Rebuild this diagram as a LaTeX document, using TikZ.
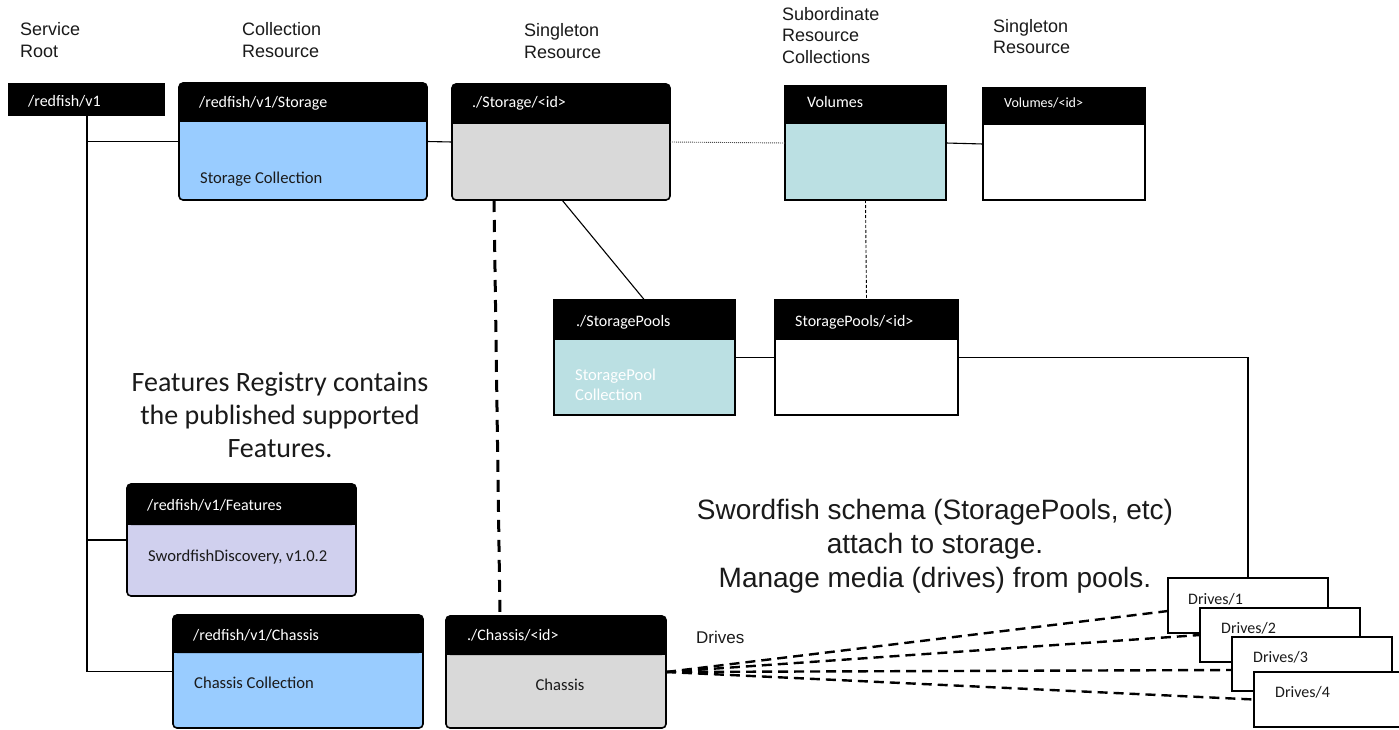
\documentclass[tikz,border=0pt]{standalone}
\usepackage{fontspec}
\setmainfont{Carlito}
\newfontfamily\arialf{Liberation Sans}
\usetikzlibrary{fit}
\definecolor{lblue}{HTML}{99CCFF}
\definecolor{lgray}{HTML}{D9D9D9}
\definecolor{lteal}{HTML}{BBE0E3}
\definecolor{lav}{HTML}{D0D0EE}
\definecolor{ink}{HTML}{1A1A1A}
\tikzset{
  hdrtxt/.style={text=white, inner sep=0, anchor=base west, font=\fontsize{16}{18}\selectfont},
  bodytxt/.style={text=ink, inner sep=0, anchor=base west, font=\fontsize{16.6}{18}\selectfont},
  drvtxt/.style={text=ink, inner sep=0, anchor=base west, font=\fontsize{16}{18}\selectfont},
  coltitle/.style={inner sep=0, anchor=north west, align=left, text=ink, font=\arialf\fontsize{18}{22}\selectfont},
  conn/.style={line width=1.1pt, black},
  border/.style={line width=1.6pt, black},
  thickdash/.style={line width=3pt, black, dash pattern=on 12pt off 8pt},
  drivedash/.style={line width=2.4pt, black, dash pattern=on 10pt off 6pt},
  finedot/.style={line width=0.9pt, black!70, dash pattern=on 1pt off 1pt},
  finedash/.style={line width=0.9pt, black, dash pattern=on 3pt off 2pt},
  drivebox/.style={draw=black, line width=1.6pt, fill=white, inner sep=0, outer sep=0},
}
\newcommand{\hdrbox}[8]{%
  \node[inner sep=0, outer sep=0, fit={(#2,#3) (#4,#5)}, fill=#7, rounded corners=#8] (#1) {};
  \fill[black, rounded corners=#8] (#2,#3) rectangle (#4,#6);
  \fill[black] (#2,#3+8) rectangle (#4,#6);
  \draw[border, rounded corners=#8] (#2,#3) rectangle (#4,#5);
}
\begin{document}
\begin{tikzpicture}[x=1pt, y=-1pt]
\useasboundingbox (0,0) rectangle (1399,730);
\fill[white] (0,0) rectangle (1399,730);

% column titles
\node[coltitle] (tSR) at (20,22) {Service\\Root};
\node[coltitle] (tCR) at (242,22) {Collection\\Resource};
\node[coltitle] (tSg1) at (524,23) {Singleton\\Resource};
\node[coltitle, font=\arialf\fontsize{18}{21.5}\selectfont] (tSub) at (782,7) {Subordinate\\Resource\\Collections};
\node[coltitle, font=\arialf\fontsize{18}{21}\selectfont] (tSg2) at (993,19) {Singleton\\Resource};

% boxes
\node[fill=black, inner sep=0, outer sep=0, fit={(8,83) (165,116)}] (root) {};
\hdrbox{stcol}{179}{83}{427}{200}{122}{lblue}{4pt}
\hdrbox{stid}{452}{84}{670}{200}{124}{lgray}{4pt}
\hdrbox{vol}{785}{86}{946}{200}{124}{lteal}{0pt}
\hdrbox{volid}{983}{88}{1145}{200}{125}{white}{0pt}
\hdrbox{spool}{554}{300}{735}{415}{340}{lteal}{0pt}
\hdrbox{spid}{775}{300}{958}{415}{340}{white}{0pt}
\hdrbox{feat}{127}{484}{356}{596}{525}{lav}{4pt}
\hdrbox{chcol}{173}{615}{423}{728}{653}{lblue}{4pt}
\hdrbox{chid}{446}{616}{666}{728}{655}{lgray}{4pt}

% connectors
\coordinate (j) at (87,0);
\draw[conn] (root.south -| j) |- (chcol.west);
\draw[conn] (root.south -| j) |- (stcol.west);
\draw[conn] (j |- feat.west) -- (feat.west);
\draw[conn] (stcol.east) -- (stid.west);
\draw[finedot] (stid.east) -- (vol.west);
\draw[conn] (vol.east) -- (volid.west);
\draw[finedash] (vol.south) -- (spid.north);
\draw[conn] ([xshift=1pt]stid.south) -- (spool.north);
\draw[thickdash] ([xshift=-67pt]stid.south) -- ([xshift=-56pt]chid.north);
\draw[conn] (spool.east) -- (spid.west);

% drives
\node[drivebox, fit={(1168,578) (1328,633)}] (d1) {};
\node[drivebox, fit={(1200,608) (1360,662)}] (d2) {};
\node[drivebox, fit={(1232,637) (1392,691)}] (d3) {};
\node[drivebox, fit={(1254,672) (1414,727)}] (d4) {};
\draw[conn] (spid.east) -| (d1.north);
\draw[drivedash] (chid.east) -- ([yshift=-5.5pt]d1.west);
\draw[drivedash] (chid.east) -- (d2.west);
\draw[drivedash] (chid.east) -- ([yshift=-6pt]d3.west);
\draw[drivedash] (chid.east) -- (d4.west);

% box texts
\node[hdrtxt] (troot) at (28,107) {/redfish/v1};
\node[hdrtxt] (tstcol) at (199,108) {/redfish/v1/Storage};
\node[bodytxt] (tstcolb) at (200,184) {Storage Collection};
\node[hdrtxt] (tstid) at (472,108) {./Storage/<id>};
\node[hdrtxt] (tvol) at (807,108) {Volumes};
\node[hdrtxt, font=\fontsize{14}{16}\selectfont] (tvolid) at (1004,108) {Volumes/<id>};
\node[hdrtxt] (tspool) at (576,326) {./StoragePools};
\node[inner sep=0, anchor=north west, align=left, text=white, font=\fontsize{16.6}{20}\selectfont] (tspoolb) at (575,369) {StoragePool\\Collection};
\node[hdrtxt] (tspid) at (795,326) {StoragePools/<id>};
\node[hdrtxt] (tfeat) at (147,510) {/redfish/v1/Features};
\node[bodytxt] (tfeatb) at (148,561) {SwordfishDiscovery, v1.0.2};
\node[hdrtxt] (tchcol) at (193,640) {/redfish/v1/Chassis};
\node[bodytxt] (tchcolb) at (194,688) {Chassis Collection};
\node[hdrtxt] (tchid) at (467,640) {./Chassis/<id>};
\node[bodytxt, anchor=base] (tchidb) at (560,690) {Chassis};
\node[drvtxt] (td1) at (1188,604) {Drives/1};
\node[drvtxt] (td2) at (1221,633) {Drives/2};
\node[drvtxt] (td3) at (1253,662) {Drives/3};
\node[drvtxt] (td4) at (1275,697) {Drives/4};
\node[inner sep=0, anchor=base west, text=ink, font=\arialf\fontsize{17}{20}\selectfont] (tdrives) at (696,643) {Drives};

% notes
\node[inner sep=0, anchor=north, align=center, text=ink, font=\fontsize{28}{33}\selectfont] (freg) at (280,372) {Features Registry contains\\the published supported\\Features.};
\node[inner sep=0, anchor=north, align=center, text=ink, font=\arialf\fontsize{28}{34}\selectfont] (sfs) at (935,499.5) {Swordfish schema (StoragePools, etc)\\attach to storage.\\Manage media (drives) from pools.};
\end{tikzpicture}
\end{document}
